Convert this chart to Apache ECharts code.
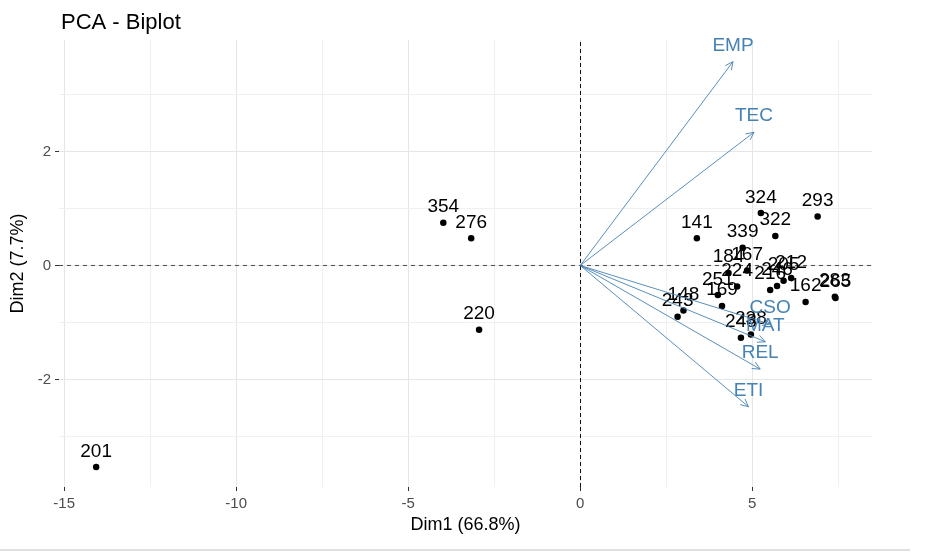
<!DOCTYPE html>
<html><head><meta charset="utf-8">
<script src="https://cdn.jsdelivr.net/npm/echarts@6/dist/echarts.min.js"></script>
<style>html,body{margin:0;padding:0;background:#fff}#c{width:936px;height:552px}</style>
</head><body><div id="c"></div>
<script>
// Individuals
const pointLabels = ['354','276','220','201','141','324','293','322','339','184','167','224','251','169','148','243','248','238','216','246','205','212','162','283','265'];
const pointX = [-3.98,-3.17,-2.94,-14.07,3.39,5.25,6.90,5.67,4.72,4.31,4.85,4.56,4.00,4.12,3.00,2.83,4.67,4.96,5.52,5.72,5.91,6.13,6.55,7.40,7.42];
const pointY = [0.75,0.48,-1.13,-3.54,0.48,0.92,0.86,0.52,0.31,-0.13,-0.09,-0.37,-0.52,-0.71,-0.79,-0.90,-1.27,-1.21,-0.43,-0.36,-0.27,-0.22,-0.64,-0.55,-0.57];
// Variables (arrows)
const varLabels = ['EMP','TEC','CSO','MAT','REL','ETI'];
const varX = [4.44,5.05,5.52,5.38,5.23,4.89];
const varY = [3.58,2.34,-1.03,-1.34,-1.82,-2.48];
// Axes
const xTicks = [-15,-10,-5,0,5];
const yTicks = [-2,0,2];
const xMinor = [-12.5,-7.5,-2.5,2.5,7.5];
const yMinor = [-3,-1,1,3];
const xRange = [-15.15,8.48];
const yRange = [-3.89,3.96];

const FONT = '"Liberation Sans", Arial, sans-serif';
const STEEL = '#4682B4';

const chart = echarts.init(document.getElementById('c'), null, {renderer:'canvas'});

const gridMarks = [];
xTicks.forEach(v => gridMarks.push({xAxis: v, lineStyle:{color:'#e6e6e6', width:1.1, type:'solid'}}));
xMinor.forEach(v => gridMarks.push({xAxis: v, lineStyle:{color:'#f0f0f0', width:1, type:'solid'}}));
yTicks.forEach(v => gridMarks.push({yAxis: v, lineStyle:{color:'#e6e6e6', width:1.1, type:'solid'}}));
yMinor.forEach(v => gridMarks.push({yAxis: v, lineStyle:{color:'#f0f0f0', width:1, type:'solid'}}));

const points = pointX.map((x,i) => [x, pointY[i], pointLabels[i]]);
const vars = varX.map((x,i) => [x, varY[i], varLabels[i]]);

chart.setOption({
  animation:false,
  backgroundColor:'#fff',
  title:{text:'PCA - Biplot', left:56, top:7, textStyle:{fontSize:22, fontWeight:'normal', color:'#000', fontFamily:FONT}},
  grid:{left:59, right:64, top:40, bottom:65, containLabel:false},
  xAxis:{type:'value', min:xRange[0], max:xRange[1],
    name:'Dim1 (66.8%)', nameLocation:'middle', nameGap:29,
    nameTextStyle:{fontSize:18, color:'#000', fontFamily:FONT},
    axisLine:{show:true, onZero:false, lineStyle:{color:'#fff', opacity:0}},
    axisTick:{show:true, customValues:xTicks, length:4, lineStyle:{color:'#333', width:1}},
    axisLabel:{customValues:xTicks, margin:9, fontSize:15, color:'#4d4d4d', fontFamily:FONT},
    splitLine:{show:false}},
  yAxis:{type:'value', min:yRange[0], max:yRange[1],
    name:'Dim2 (7.7%)', nameLocation:'middle', nameGap:24, nameRotate:90,
    nameTextStyle:{fontSize:18, color:'#000', fontFamily:FONT},
    axisLine:{show:true, onZero:false, lineStyle:{color:'#fff', opacity:0}},
    axisTick:{show:true, customValues:yTicks, length:4, lineStyle:{color:'#333', width:1}},
    axisLabel:{customValues:yTicks, margin:8, fontSize:15, color:'#4d4d4d', fontFamily:FONT},
    splitLine:{show:false}},
  series:[
    {type:'scatter', data:[], silent:true, z:1,
      markLine:{silent:true, symbol:['none','none'], label:{show:false}, animation:false, data:gridMarks}},
    {type:'scatter', data:[], silent:true, z:2,
      markLine:{silent:true, symbol:['none','none'], label:{show:false}, animation:false,
        data:[{yAxis:0, lineStyle:{color:'#555', width:1.1, type:[4,4]}},
              {xAxis:0, lineStyle:{color:'#111', width:1, type:[4,3]}}]}},
    {type:'scatter', data:points, symbol:'circle', symbolSize:6.5, z:5,
      itemStyle:{color:'#000', opacity:1},
      label:{show:true, position:'top', distance:3, formatter:p=>p.data[2], fontSize:19, color:'#000', fontFamily:FONT}},
    {type:'custom', data:vars, z:6, silent:true,
      renderItem:function(params, api){
        const p0 = api.coord([0,0]);
        const p1 = api.coord([api.value(0), api.value(1)]);
        const a = Math.atan2(p1[1]-p0[1], p1[0]-p0[0]);
        const L = 8.5, th = Math.PI/7;
        const h1 = [p1[0]-L*Math.cos(a-th), p1[1]-L*Math.sin(a-th)];
        const h2 = [p1[0]-L*Math.cos(a+th), p1[1]-L*Math.sin(a+th)];
        const lbl = vars[params.dataIndex][2];
        return {type:'group', children:[
          {type:'polyline', shape:{points:[p0,p1]}, style:{stroke:STEEL, lineWidth:0.9, fill:null}},
          {type:'polyline', shape:{points:[h1,p1,h2]}, style:{stroke:STEEL, lineWidth:0.9, fill:null}},
          {type:'text', style:{text:lbl, x:p1[0], y:p1[1]-16, align:'center', verticalAlign:'middle',
            fill:STEEL, fontSize:19, fontFamily:FONT}}
        ]};
      }}
  ],
  graphic:[{type:'rect', shape:{x:0, y:549, width:910, height:2}, style:{fill:'#e0e0e0'}, silent:true}]
});
</script>
</body></html>
